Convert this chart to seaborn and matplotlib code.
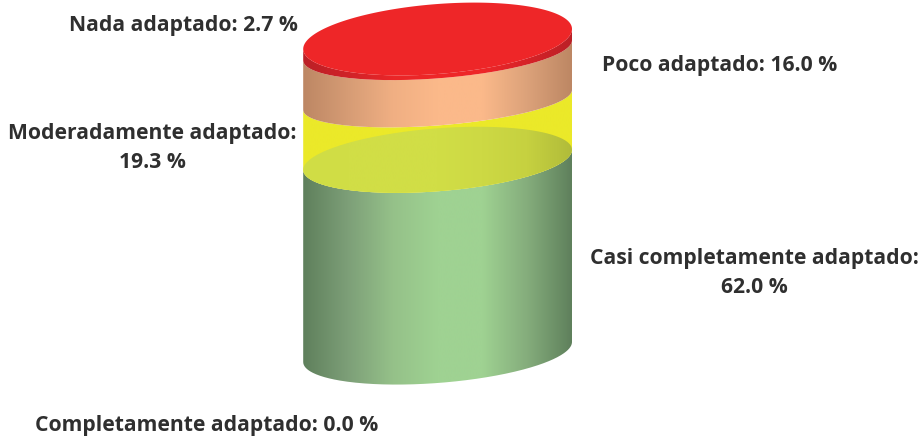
import numpy as np
import matplotlib
matplotlib.use("Agg")
import matplotlib.pyplot as plt
from matplotlib.path import Path
from matplotlib.patches import PathPatch
import seaborn as sns

# Data
categories = ["Casi completamente adaptado", "Moderadamente adaptado",
              "Poco adaptado", "Nada adaptado", "Completamente adaptado"]
values = [62.0, 19.3, 16.0, 2.7, 0.0]

# Style
W, H = 921, 438
CX, RX, BASE_PX, PX_PER_PCT = 437.6, 134.4, 352.0, 3.10
TILT_PX = 10.0
ring_half_px = [31, 31.5, 25.5, 28, 35]       # ellipse half-height at each boundary
TOP_LIFT_PX = 3
side_stops = {
    "green": ["#5f805c", "#7d9f78", "#95c189", "#9fd292", "#9fd292", "#85ad7c", "#5f805c"],
    "yellow": ["#ebe929", "#ebe929"],
    "orange": ["#bd8764", "#d69c75", "#f0af83", "#fbb98a", "#fbb98a", "#dca27a", "#bd8764"],
    "red": ["#bb2026", "#d02228", "#ea2628", "#ee2728", "#ee2728", "#d62328", "#bb2026"],
}
lid_stops = ["#d0dd45", "#d1de46", "#d1de46", "#d1de46", "#cdd944", "#c6d140", "#b1bc3a"]
TOP_RED = "#ee2628"
TEXT = "#2f2f2f"

sns.set_theme(style="white")
plt.rcParams["font.family"] = ["Open Sans", "DejaVu Sans"]

fig = plt.figure(figsize=(W / 100, H / 100), dpi=100)
ax = fig.add_axes([0, 0, 1, 1])
ylim = (BASE_PX - H) / PX_PER_PCT, BASE_PX / PX_PER_PCT
xlim = -CX / RX, (W - CX) / RX
TILT = TILT_PX / PX_PER_PCT
theta_front = np.linspace(np.pi, 2 * np.pi, 200)
theta_full = np.linspace(0, 2 * np.pi, 400)


def ring(level, half_px, theta):
    half = half_px / PX_PER_PCT
    return np.cos(theta), level + TILT * np.cos(theta) + half * np.sin(theta)


def fill(path_xy, cmap_colors, z):
    cmap = sns.blend_palette(cmap_colors, n_colors=256, as_cmap=True)
    grad = np.linspace(0, 1, 512)[None, :]
    im = ax.imshow(grad, cmap=cmap, extent=(-1, 1, ylim[0], ylim[1]), aspect="auto", zorder=z,
                   interpolation="bilinear", origin="lower")
    patch = PathPatch(Path(np.column_stack(path_xy), closed=False), fc="none", ec="none",
                      transform=ax.transData)
    ax.add_patch(patch)
    im.set_clip_path(patch)


levels = np.concatenate([[0], np.cumsum(values[:4])])
names = ["green", "yellow", "orange", "red"]
top_level = levels[4] + TOP_LIFT_PX / PX_PER_PCT
for i, name in enumerate(names):
    x0, y0 = ring(levels[i], ring_half_px[i], theta_front)
    upper = top_level if i == 3 else levels[i + 1]
    x1, y1 = ring(upper, ring_half_px[i + 1], theta_front[::-1])
    fill((np.r_[x0, x1, x0[0]], np.r_[y0, y1, y0[0]]), side_stops[name], z=2 + i * 2)

# translucent-looking top of the green section, seen through the yellow one
lx, ly = ring(levels[1], ring_half_px[1], theta_full)
fill((lx, ly), lid_stops, z=4.5)
# top of the cylinder
tx, ty = ring(top_level, ring_half_px[4], theta_full)
ax.fill(tx, ty, color=TOP_RED, lw=0, zorder=20)

ax.set_xlim(*xlim)
ax.set_ylim(*ylim)
ax.axis("off")


def fmt(i):
    return f"{categories[i]}: {values[i]:.1f} %"


def fmt2(i):
    return f"{categories[i]}:\n{values[i]:.1f} %"


labels = [
    (fmt(3), 298, 25, "right"),
    (fmt(2), 719.5, 66, "center"),
    (fmt2(1), 152, 148, "center"),
    (fmt2(0), 754, 273, "center"),
    (fmt(4), 206.5, 425, "center"),
]
for txt, px, py, ha in labels:
    ax.text(px / W, 1 - py / H, txt, transform=ax.transAxes, ha=ha, va="center", fontsize=15.2,
            fontweight="bold", color=TEXT, linespacing=1.5, zorder=30)

fig.savefig("out.png", dpi=100)
